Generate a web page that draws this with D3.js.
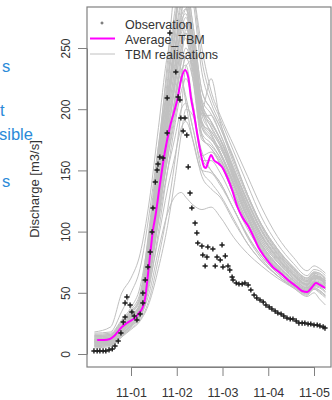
<!DOCTYPE html>
<html><head><meta charset="utf-8">
<script src="https://cdn.jsdelivr.net/npm/d3@7"></script>
<style>html,body{margin:0;padding:0;background:#fff;overflow:hidden}svg{display:block}</style>
</head><body>
<script>
// ---- data (days since 2016-10-31 00:00; discharge in m3/s) ----
const xTickDays = [1, 2, 3, 4, 5];
const xTickLabels = ["11-01", "11-02", "11-03", "11-04", "11-05"];
const yTicks = [0, 50, 100, 150, 200, 250];
const legendLabels = ["Observation", "Average_TBM", "TBM realisations"];
const sideText = ["s", "t", "sible", "s"];
const yLabel = "Discharge [m3/s]";

const obsDay = [0.19,0.26,0.32,0.39,0.45,0.52,0.59,0.65,0.72,0.78,0.83,0.87,0.87,0.91,0.98,1.02,1.07,1.13,1.20,1.26,1.26,1.31,1.37,1.42,1.46,1.48,1.53,1.57,1.59,1.63,1.70,1.79,1.79,1.85,1.98,2.03,2.07,2.09,2.18,2.14,2.22,2.25,2.29,2.33,2.40,2.44,2.46,2.55,2.57,2.62,2.68,2.66,2.79,2.84,2.88,2.95,2.99,3.01,3.06,3.12,3.16,3.21,3.23,3.30,3.36,3.43,3.49,3.56,3.62,3.69,3.75,3.82,3.89,3.95,4.02,4.08,4.15,4.21,4.28,4.34,4.41,4.48,4.54,4.61,4.67,4.74,4.80,4.87,4.93,5.00,5.07,5.13,5.20,5.24];
const obsQ = [2.5,2.5,2.5,2.5,2.5,3.3,4.1,6.5,10.6,17.2,26.1,30.2,41.7,46.6,40.0,34.3,31.0,27.8,32.7,41.7,49.8,60.5,71.1,83.3,99.7,119.3,140.5,150.3,155.2,160.9,160.1,180.6,209.2,262.3,230.4,210.0,207.5,192.8,192.8,182.2,178.9,152.8,131.5,119.3,107.0,98.9,90.7,88.2,80.9,71.9,87.4,79.2,85.8,71.9,79.2,76.8,89.1,71.1,80.1,71.9,68.6,62.9,60.5,58.0,57.2,57.2,58.0,56.4,52.3,48.2,45.8,44.1,42.5,40.0,38.4,36.8,35.1,33.5,32.7,31.0,29.4,28.6,28.6,27.0,25.3,25.3,25.3,24.5,24.5,23.7,23.7,22.9,22.1,21.2];

const avgDay = [0.26,0.41,0.54,0.63,0.69,0.80,0.91,1.02,1.11,1.17,1.24,1.31,1.35,1.42,1.48,1.53,1.63,1.74,1.85,2.01,2.11,2.18,2.25,2.31,2.38,2.44,2.51,2.60,2.64,2.68,2.75,2.81,2.90,2.99,3.10,3.21,3.32,3.43,3.56,3.67,3.78,3.89,3.99,4.10,4.26,4.43,4.63,4.74,4.85,4.96,5.04,5.13,5.24];
const avgQ = [11.4,11.4,12.3,14.7,17.2,22.1,25.3,27.8,30.2,33.5,36.8,45.8,58.0,81.7,101.3,111.9,138.1,165.0,185.5,207.5,226.3,232.0,226.3,209.2,195.3,181.4,166.7,152.8,152.0,156.0,162.6,158.5,156.0,152.8,144.6,134.0,120.9,111.9,104.6,96.4,87.4,80.9,76.0,71.1,66.2,60.5,54.7,51.5,50.7,54.7,58.0,56.4,53.9];

const realDay = [0.2,0.55,0.8,1.0,1.2,1.4,1.6,1.8,1.95,2.1,2.2,2.35,2.55,2.75,2.95,3.25,3.55,3.85,4.2,4.55,4.85,5.0,5.12,5.25];
const realisations = [
  [18,22,50,62,82,125,185,245,262,230,205,175,150,148,138,118,96,80,66,56,50,55,54,50],
  [5,6,14,22,30,50,85,115,128,132,128,122,118,120,112,95,82,72,62,54,47,50,45,40],
  [14,15,24,32,40,70,120,190,260,320,330,300,250,215,195,170,145,120,96,79,68,72,70,66],
  [10,11,20,27,35,75,130,180,215,250,258,225,175,170,160,135,110,88,72,60,53,59,58,55],
  [8,9,17,24,31,60,110,165,200,240,265,250,190,180,165,138,112,90,73,60,52,58,57,54],
  [12,13,22,30,38,80,140,200,245,285,290,255,200,225,190,160,130,105,85,70,61,66,64,60],
  [9,10,19,26,34,72,125,172,205,232,236,205,162,165,155,130,105,85,69,57,51,57,56,53],
  [16,17,28,38,55,100,160,220,270,300,295,260,205,190,175,150,125,102,83,69,60,65,63,60],
  [7,8,15,23,30,55,100,150,185,215,225,205,160,150,140,118,95,78,64,54,48,53,51,47],
  [11,12,21,29,37,85,150,210,255,290,300,270,215,200,185,155,128,104,84,69,60,66,65,61],
  [13,14,23,31,42,90,155,205,235,262,270,240,185,175,168,142,116,94,77,64,56,62,61,57],
  [6,7,16,24,32,58,95,135,160,185,190,175,145,135,128,108,90,76,64,55,49,53,50,46],
  [15,16,26,35,45,95,165,240,300,340,335,300,240,210,192,165,138,112,90,74,64,69,68,64],
  [9,10,18,25,33,65,115,160,190,225,245,235,180,172,160,133,108,87,71,59,52,58,57,53],
  [17,18,35,50,70,115,170,215,230,225,210,185,158,158,148,125,102,84,69,58,51,56,55,51],
  [12,13,22,30,40,88,145,195,230,268,282,262,205,185,172,146,120,97,79,65,57,63,62,58],
  [10,11,19,27,35,68,120,175,220,275,310,290,230,205,188,158,130,106,86,71,62,67,66,62],
  [7,8,16,24,31,62,108,150,175,200,205,185,150,140,130,110,90,76,64,55,49,54,52,48],
  [14,15,25,33,44,92,158,218,262,295,288,248,195,195,180,150,123,100,81,67,59,64,63,59],
  [11,12,20,28,36,78,135,188,225,258,262,230,178,168,158,132,107,86,70,58,52,58,57,54],
  [10,11,20,28,38,82,142,198,240,272,278,245,190,178,165,140,114,92,75,62,54,60,59,56],
  [8,9,18,25,33,70,122,170,205,238,250,232,185,176,163,137,111,89,72,60,53,58,57,53],
  [13,14,24,33,46,98,162,225,268,292,285,250,200,188,176,150,124,101,82,68,59,64,63,60],
  [9,10,19,27,36,76,132,185,222,255,268,248,195,182,170,143,117,94,76,63,55,61,60,56],
  [12,13,23,31,41,86,148,206,248,280,295,262,208,196,180,152,125,101,82,67,58,64,63,59],
  [11,12,21,29,39,80,138,192,232,265,275,250,198,186,172,145,118,96,78,64,56,62,61,57],
  [7,8,16,23,31,64,112,160,195,228,242,225,178,168,156,130,105,85,70,58,51,56,55,51],
  [15,16,27,36,50,104,170,232,278,310,305,270,215,200,185,158,130,106,86,71,62,67,66,62],
  [10,11,20,27,35,74,128,180,218,250,262,240,188,176,164,138,112,90,73,61,54,59,58,55],
  [12,13,22,30,40,84,146,202,244,276,282,252,200,190,176,148,121,98,80,66,57,63,62,58],
  [14,15,26,34,48,96,158,212,248,270,268,236,188,182,170,144,118,96,78,65,57,62,61,58],
  [9,10,18,26,34,66,118,168,208,245,262,255,205,190,175,147,120,97,79,65,57,63,62,58],
  [6,7,14,20,27,42,70,105,140,180,200,195,165,150,140,118,97,80,66,56,50,54,52,48],
  [8,9,15,21,28,45,78,118,155,200,235,240,200,180,165,140,114,92,75,62,54,59,58,54]
];

// ---- drawing ----
const W = 332, H = 400;
const box = {left: 87, right: 331, top: 7, bottom: 367};
const font = "'Liberation Sans', Arial, Helvetica, sans-serif";
const svg = d3.select("body").append("svg").attr("width", W).attr("height", H)
  .style("font-family", font);

const x = d3.scaleLinear().domain([1, 5]).range([131, 314]);
const y = d3.scaleLinear().domain([0, 250]).range([354, 48]);

svg.append("defs").append("clipPath").attr("id", "clip")
  .append("rect").attr("x", box.left).attr("y", box.top)
  .attr("width", box.right - box.left).attr("height", box.bottom - box.top);

// side text fragments (cut-off slide text)
const sideY = [72, 116, 140, 187];
const sideX = [2, 0, -1, 2];
svg.append("g").selectAll("text").data(sideText).join("text")
  .attr("x", (d, i) => sideX[i]).attr("y", (d, i) => sideY[i])
  .attr("fill", "#2a8ad8").attr("font-size", 16.5).text(d => d);

const g = svg.append("g").attr("clip-path", "url(#clip)");

const lineReal = d3.line().x((d, i) => x(realDay[i])).y(d => y(d)).curve(d3.curveMonotoneX);
g.append("g").selectAll("path").data(realisations).join("path")
  .attr("d", lineReal).attr("fill", "none").attr("stroke", "#c0c0c0").attr("stroke-width", 1);

const lineAvg = d3.line().x((d, i) => x(avgDay[i])).y(d => y(d)).curve(d3.curveMonotoneX);
g.append("path").datum(avgQ).attr("d", lineAvg).attr("fill", "none")
  .attr("stroke", "#ff00ff").attr("stroke-width", 2);

g.append("g").selectAll("path").data(obsQ).join("path")
  .attr("transform", (d, i) => `translate(${x(obsDay[i])},${y(d)})`)
  .attr("d", "M-2.6,0H2.6M0,-2.6V2.6").attr("stroke", "#1b1b1b").attr("stroke-width", 1.4).attr("fill", "none");

// axes
const axisColor = "#808080";
const yAxis = svg.append("g").attr("transform", `translate(${box.left},0)`)
  .call(d3.axisLeft(y).tickValues(yTicks).tickSize(9).tickSizeOuter(0));
yAxis.select(".domain").attr("stroke", axisColor);
yAxis.selectAll(".tick line").attr("stroke", axisColor);
yAxis.selectAll(".tick text").attr("x", 0).attr("dy", 0).attr("y", 0)
  .attr("transform", "translate(-17,0) rotate(-90)").attr("text-anchor", "middle")
  .attr("font-size", 12).attr("font-family", font).attr("fill", "#333");

const xAxis = svg.append("g").attr("transform", `translate(0,${box.bottom})`)
  .call(d3.axisBottom(x).tickValues(xTickDays).tickFormat((d, i) => xTickLabels[i]).tickSize(9).tickSizeOuter(0));
xAxis.select(".domain").attr("stroke", axisColor);
xAxis.selectAll(".tick line").attr("stroke", axisColor);
xAxis.selectAll(".tick text").attr("y", 30).attr("dy", 0)
  .attr("font-size", 12.5).attr("font-family", font).attr("fill", "#333");

svg.append("rect").attr("x", box.left).attr("y", box.top)
  .attr("width", box.right - box.left).attr("height", box.bottom - box.top)
  .attr("fill", "none").attr("stroke", axisColor).attr("stroke-width", 1.2);

// y label
svg.append("text").attr("transform", "translate(39,189) rotate(-90)")
  .attr("text-anchor", "middle").attr("font-size", 13).attr("fill", "#333").text(yLabel);

// legend
const lg = svg.append("g");
const legY = [24, 39, 54];
lg.append("path").attr("d", "M100.5,23H103.5M102,21.5V24.5").attr("stroke", "#555").attr("stroke-width", 1);
lg.append("line").attr("x1", 90).attr("x2", 115).attr("y1", legY[1] - 0.5).attr("y2", legY[1] - 0.5)
  .attr("stroke", "#ff00ff").attr("stroke-width", 2);
lg.append("line").attr("x1", 90).attr("x2", 115).attr("y1", legY[2]).attr("y2", legY[2])
  .attr("stroke", "#c0c0c0").attr("stroke-width", 1);
lg.selectAll("text").data(legendLabels).join("text")
  .attr("x", 125).attr("y", (d, i) => legY[i] + 4.5)
  .attr("font-size", 12.5).attr("fill", "#333").text(d => d);
</script>
</body></html>
